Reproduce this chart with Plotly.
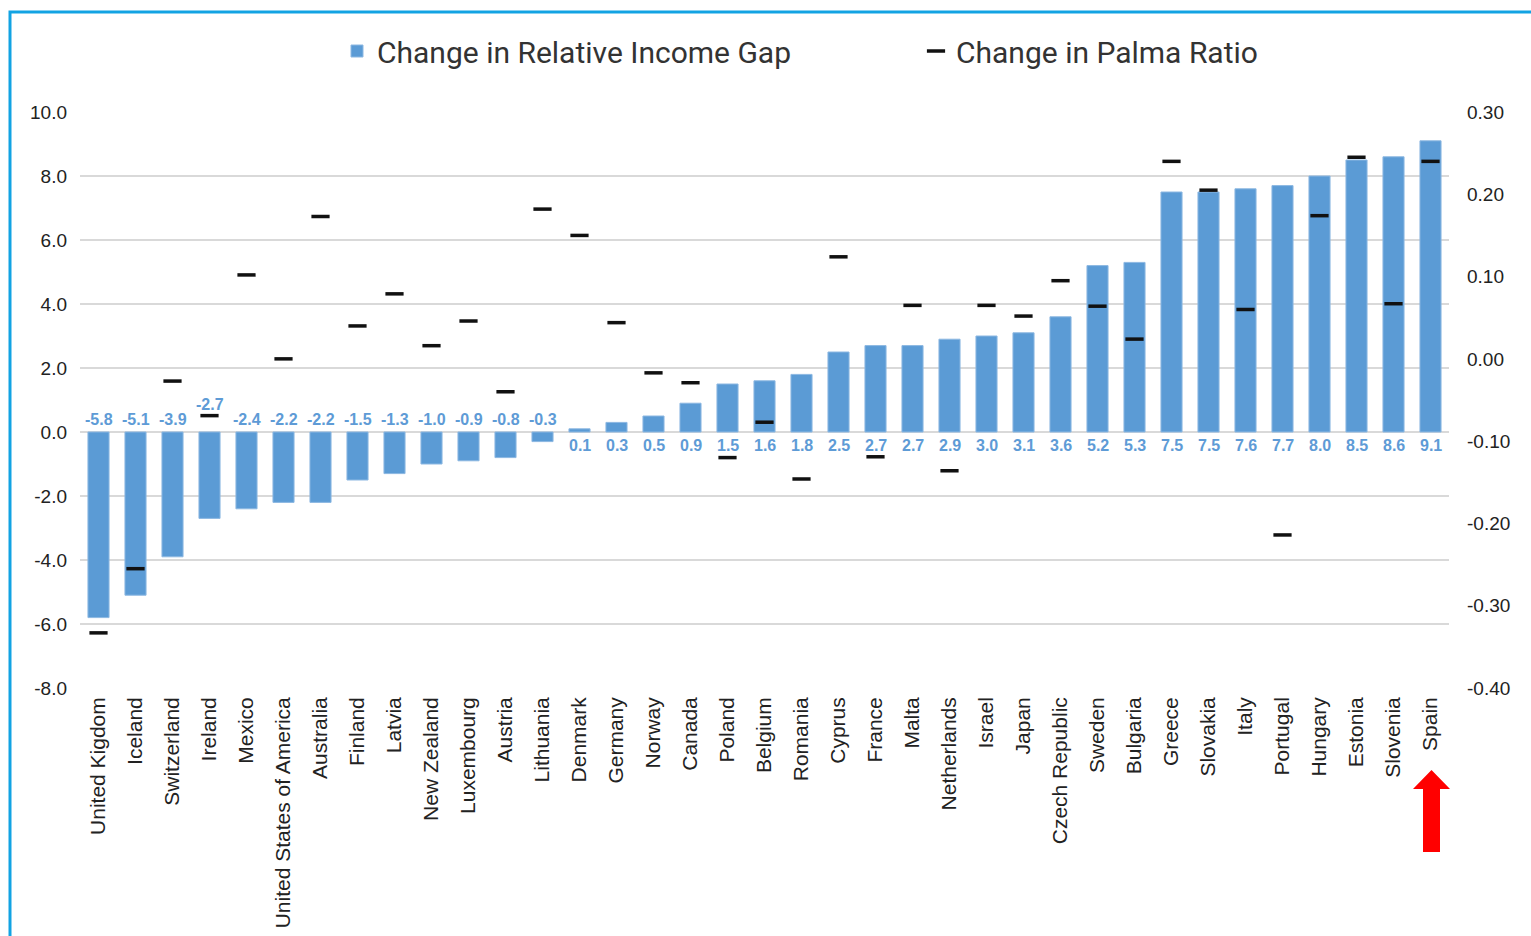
import plotly.graph_objects as go

# ---------------- data ----------------
countries = ["United Kigdom", "Iceland", "Switzerland", "Ireland", "Mexico",
             "United States of America", "Australia", "Finland", "Latvia",
             "New Zealand", "Luxembourg", "Austria", "Lithuania", "Denmark",
             "Germany", "Norway", "Canada", "Poland", "Belgium", "Romania",
             "Cyprus", "France", "Malta", "Netherlands", "Israel", "Japan",
             "Czech Republic", "Sweden", "Bulgaria", "Greece", "Slovakia",
             "Italy", "Portugal", "Hungary", "Estonia", "Slovenia", "Spain"]
income_gap = [-5.8, -5.1, -3.9, -2.7, -2.4, -2.2, -2.2, -1.5, -1.3, -1.0, -0.9,
              -0.8, -0.3, 0.1, 0.3, 0.5, 0.9, 1.5, 1.6, 1.8, 2.5, 2.7, 2.7, 2.9,
              3.0, 3.1, 3.6, 5.2, 5.3, 7.5, 7.5, 7.6, 7.7, 8.0, 8.5, 8.6, 9.1]
palma = [-0.333, -0.255, -0.027, -0.069, 0.102, 0.000, 0.173, 0.040, 0.079,
         0.016, 0.046, -0.040, 0.182, 0.150, 0.044, -0.017, -0.029, -0.120,
         -0.077, -0.146, 0.124, -0.119, 0.065, -0.136, 0.065, 0.052, 0.095,
         0.064, 0.024, 0.240, 0.205, 0.060, -0.214, 0.174, 0.245, 0.067, 0.240]
left_tickvals = [10, 8, 6, 4, 2, 0, -2, -4, -6, -8]
left_ticktext = ["10.0", "8.0", "6.0", "4.0", "2.0", "0.0", "-2.0", "-4.0", "-6.0", "-8.0"]
right_tickvals = [0.3, 0.2, 0.1, 0.0, -0.1, -0.2, -0.3, -0.4]
right_ticktext = ["0.30", "0.20", "0.10", "0.00", "-0.10", "-0.20", "-0.30", "-0.40"]
assert len(countries) == len(income_gap) == len(palma)

# ---------------- layout constants ----------------
W, H = 1531, 936
ML, MR, MT, MB = 80, 82, 112, 248
PW, PH = W - ML - MR, H - MT - MB

def px(x):
    return (x - ML) / PW

def py(y):
    return (H - MB - y) / PH

BAR = "#5B9BD5"
LABEL = "#5E9BD6"
GRID = "#D9D9D9"
SANS = "Liberation Sans, Arial, sans-serif"

fig = go.Figure()
fig.add_trace(go.Bar(
    x=countries, y=income_gap, name="Change in Relative Income Gap",
    marker=dict(color=BAR, line=dict(color="#8DB8E2", width=1)),
    yaxis="y", hoverinfo="x+y"))
fig.add_trace(go.Scatter(
    x=countries, y=palma, name="Change in Palma Ratio", mode="markers",
    marker=dict(symbol="line-ew", size=13, line=dict(color="#111111", width=3.5)),
    yaxis="y2"))

# data labels at the baseline
label_raise = {"Ireland": 15}
annotations = []
for c, v in zip(countries, income_gap):
    shift = 12.5 if v < 0 else -13.5
    shift += label_raise.get(c, 0)
    annotations.append(dict(
        x=c, y=0, xref="x", yref="y", text=f"<b>{v:.1f}</b>", showarrow=False,
        yanchor="middle", yshift=shift,
        font=dict(family=SANS, size=16, color=LABEL)))

shapes = [
    # blue frame
    dict(type="rect", xref="paper", yref="paper",
         x0=px(10), y0=py(945), x1=px(1545), y1=py(12),
         line=dict(color="#12A3E3", width=3), fillcolor="rgba(0,0,0,0)", layer="below"),
    # red arrow under Spain
    dict(type="path", xref="paper", yref="paper",
         path=(f"M {px(1431.5)} {py(770)} L {px(1413)} {py(789)} L {px(1423)} {py(789)} "
               f"L {px(1423)} {py(852)} L {px(1440)} {py(852)} L {px(1440)} {py(789)} "
               f"L {px(1450)} {py(789)} Z"),
         fillcolor="#FF0000", line=dict(width=0)),
]

fig.update_layout(
    width=W, height=H,
    margin=dict(l=ML, r=MR, t=MT, b=MB, autoexpand=False),
    paper_bgcolor="white", plot_bgcolor="white",
    bargap=0.43,
    showlegend=True,
    legend=dict(orientation="h", x=px(337), xanchor="left", y=py(51), yanchor="middle",
                font=dict(family="Roboto, sans-serif", size=30, color="#333333"),
                entrywidth=534, entrywidthmode="pixels", bgcolor="rgba(0,0,0,0)",
                traceorder="normal"),
    xaxis=dict(type="category", range=[-0.5, len(countries) - 0.5], autorange=False,
               tickangle=-90, showgrid=False, showline=False,
               ticks="", ticklabelstandoff=4,
               tickfont=dict(family=SANS, size=21, color="#222222")),
    yaxis=dict(range=[-8, 10], tickvals=left_tickvals, ticktext=left_ticktext,
               showgrid=True, gridcolor=GRID, gridwidth=1.5,
               zeroline=True, zerolinecolor=GRID, zerolinewidth=1.5,
               showline=False, ticks="", ticklabelstandoff=12,
               tickfont=dict(family=SANS, size=19, color="#222222")),
    yaxis2=dict(range=[-0.4, 0.3], tickvals=right_tickvals, ticktext=right_ticktext,
                overlaying="y", side="right", showgrid=False, zeroline=False,
                showline=False, ticks="", ticklabelstandoff=17,
                tickfont=dict(family=SANS, size=19, color="#222222")),
    annotations=annotations,
    shapes=shapes,
)

fig.write_html("out.html", config={"displayModeBar": False},
               post_script="document.body.style.margin='0px';")
